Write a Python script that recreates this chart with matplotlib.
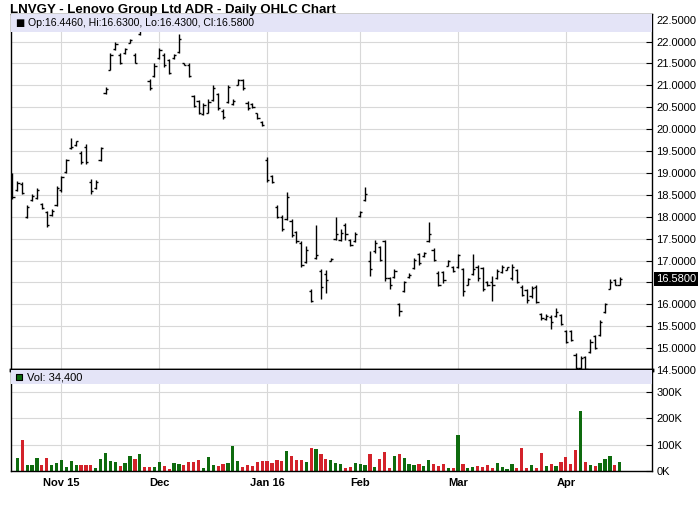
import matplotlib
matplotlib.use("Agg")
import matplotlib.pyplot as plt
from matplotlib.patches import Rectangle
from matplotlib.ticker import FixedLocator, FuncFormatter

plt.rcParams['font.family'] = ['Liberation Sans', 'DejaVu Sans']

# daily bars, 19 Oct 2015 .. 18 Apr 2016 (125 trading days)
opens = [18.98, 18.62, 18.75, 18.00, 18.38, 18.42, 18.30, 18.10, 18.04, 18.26,
         18.60, 19.03, 19.56, 19.63, 19.45, 19.60, 18.80, 18.66, 19.29, 20.82,
         21.36, 21.83, 21.70, 21.73, 21.97, 21.70, 22.17, 22.48, 21.10, 21.22,
         21.63, 21.70, 21.58, 21.62, 21.77, 21.51, 21.47, 20.75, 20.65, 20.35,
         20.38, 20.66, 20.80, 20.42, 20.62, 20.57, 21.01, 21.12, 20.60, 20.57,
         20.36, 20.17, 19.30, 18.92, 18.22, 18.00, 17.94, 17.90, 17.65, 17.40,
         16.97, 16.30, 17.05, 16.75, 16.70, 17.00, 17.50, 17.46, 17.80, 17.48,
         17.44, 18.02, 18.38, 17.00, 17.22, 17.30, 17.45, 16.60, 16.63, 16.00,
         16.30, 16.63, 16.83, 17.15, 17.10, 17.44, 17.25, 16.72, 16.74, 16.88,
         16.85, 16.86, 16.80, 16.45, 16.70, 16.85, 16.82, 16.52, 16.50, 16.60,
         16.73, 16.79, 16.60, 16.78, 16.40, 16.32, 16.18, 16.40, 15.78, 15.67,
         15.72, 15.74, 15.75, 15.40, 15.38, 14.85, 14.55, 14.80, 14.90, 15.28,
         15.29, 15.83, 16.36, 16.55, 16.446]
highs = [19.00, 18.81, 18.79, 18.26, 18.51, 18.66, 18.32, 18.13, 18.17, 18.70,
         18.94, 19.33, 19.80, 19.74, 19.50, 19.65, 18.87, 18.85, 19.60, 20.97,
         21.73, 21.98, 21.73, 21.86, 22.05, 21.73, 22.40, 22.50, 21.14, 21.50,
         21.85, 21.73, 21.61, 21.71, 22.17, 21.52, 21.50, 20.77, 20.67, 20.59,
         20.68, 21.00, 20.83, 20.45, 21.00, 20.68, 21.14, 21.15, 20.64, 20.59,
         20.38, 20.19, 19.37, 18.95, 18.26, 18.03, 18.56, 17.94, 17.67, 17.44,
         17.33, 16.34, 17.82, 16.80, 16.78, 17.06, 18.00, 17.73, 17.86, 17.50,
         17.65, 18.13, 18.69, 17.22, 17.47, 17.33, 17.48, 16.63, 16.81, 16.04,
         16.53, 16.72, 17.06, 17.18, 17.19, 17.88, 17.29, 16.76, 16.76, 17.01,
         16.87, 17.16, 16.83, 16.61, 17.16, 16.89, 16.86, 16.53, 16.64, 16.80,
         16.89, 16.86, 16.93, 16.81, 16.43, 16.35, 16.42, 16.43, 15.81, 15.77,
         15.75, 15.92, 15.77, 15.42, 15.42, 14.88, 14.82, 14.83, 15.21, 15.31,
         15.65, 16.03, 16.57, 16.57, 16.63]
lows = [18.40, 18.59, 18.51, 17.98, 18.36, 18.40, 18.17, 17.77, 18.02, 18.24,
        18.56, 19.01, 19.54, 19.61, 19.20, 19.20, 18.53, 18.64, 19.27, 20.80,
        21.35, 21.81, 21.48, 21.71, 21.96, 21.50, 22.15, 22.30, 20.90, 21.20,
        21.61, 21.43, 21.25, 21.61, 21.75, 21.46, 21.20, 20.51, 20.34, 20.32,
        20.36, 20.64, 20.44, 20.24, 20.59, 20.55, 21.00, 20.90, 20.44, 20.48,
        20.23, 20.07, 18.79, 18.76, 17.96, 17.67, 17.92, 17.54, 17.41, 16.86,
        16.95, 16.05, 17.04, 16.13, 16.26, 16.99, 17.47, 17.44, 17.48, 17.33,
        17.42, 18.00, 18.36, 16.64, 17.18, 16.99, 16.53, 16.35, 16.61, 15.73,
        16.28, 16.61, 16.81, 16.89, 17.09, 17.42, 16.99, 16.42, 16.49, 16.87,
        16.74, 16.83, 16.19, 16.43, 16.68, 16.53, 16.30, 16.42, 16.07, 16.58,
        16.71, 16.78, 16.55, 16.49, 16.19, 16.02, 16.15, 16.02, 15.65, 15.65,
        15.43, 15.72, 15.52, 15.11, 15.16, 14.46, 14.51, 14.48, 14.88, 14.97,
        15.27, 15.81, 16.34, 16.43, 16.43]
closes = [18.45, 18.78, 18.55, 18.22, 18.48, 18.62, 18.20, 17.82, 18.14, 18.66,
          18.90, 19.30, 19.60, 19.72, 19.25, 19.25, 18.58, 18.80, 19.58, 20.92,
          21.70, 21.95, 21.52, 21.84, 22.03, 21.52, 22.35, 22.32, 20.95, 21.45,
          21.80, 21.47, 21.28, 21.69, 22.05, 21.47, 21.22, 20.53, 20.37, 20.55,
          20.62, 20.95, 20.48, 20.27, 20.96, 20.64, 21.12, 20.93, 20.48, 20.50,
          20.26, 20.09, 18.85, 18.79, 18.00, 17.72, 18.45, 17.58, 17.45, 16.90,
          17.25, 16.08, 17.12, 16.40, 16.55, 17.04, 17.60, 17.62, 17.60, 17.36,
          17.60, 18.10, 18.52, 16.80, 17.40, 17.02, 16.60, 16.45, 16.76, 15.85,
          16.50, 16.68, 17.02, 16.95, 17.17, 17.60, 17.02, 16.45, 16.55, 16.98,
          16.77, 17.12, 16.30, 16.58, 16.80, 16.60, 16.35, 16.44, 16.45, 16.75,
          16.85, 16.85, 16.85, 16.52, 16.22, 16.10, 16.38, 16.05, 15.68, 15.74,
          15.60, 15.82, 15.55, 15.13, 15.18, 14.55, 14.78, 14.52, 15.15, 15.00,
          15.60, 16.00, 16.52, 16.45, 16.58]
# volume in thousands of shares, colour: 'g' up day, 'r' down day
volume = [0, 49, 116, 22, 22, 49, 22, 49, 22, 30,
          41, 14, 37, 22, 22, 22, 22, 11, 45, 67,
          37, 34, 19, 30, 56, 45, 64, 15, 15, 15,
          34, 19, 7, 30, 26, 22, 34, 34, 41, 11,
          52, 22, 19, 26, 30, 94, 37, 15, 22, 19,
          34, 37, 37, 30, 41, 37, 75, 56, 41, 41,
          34, 86, 82, 64, 45, 41, 30, 26, 11, 14,
          30, 26, 22, 64, 15, 45, 71, 11, 56, 64,
          49, 26, 22, 26, 19, 41, 26, 19, 26, 11,
          11, 135, 26, 11, 15, 19, 15, 22, 11, 30,
          15, 7, 26, 11, 86, 11, 22, 11, 67, 19,
          26, 19, 34, 52, 26, 79, 226, 34, 22, 19,
          30, 45, 56, 22, 34.4]
vol_dir = ("ggrgggrrgg" "ggggrrrggg" "ggrggrgrrg" "grrggrrrrg" "ggrrgggrrr"
           "rrrrrrgrrr" "grgrrgggrr" "gggrgrrrgr" "gggrggrrrg" "rgrggrrrrg"
           "gggrrrgrrg" "rgrrrrgrgr" "gggrg")

month_pos = [10, 30, 52, 71, 91, 113]
month_labels = ["Nov 15", "Dec", "Jan 16", "Feb", "Mar", "Apr"]
price_ticks = [14.5 + 0.5 * i for i in range(17)]
vol_ticks = [0, 100, 200, 300]

GREEN = '#0e6b0e'
RED = '#d3222a'
GRID = '#d8d8d8'
BAND = '#e4e4f7'

x = list(range(len(closes)))

fig = plt.figure(figsize=(7, 5.12), dpi=100)
fig.text(0.014, 0.981, "LNVGY - Lenovo Group Ltd ADR - Daily OHLC Chart",
         fontsize=9.5, fontweight='bold', va='center', ha='left')

ax = fig.add_axes([11 / 700, 1 - 370 / 512, 641 / 700, 356 / 512])
axv = fig.add_axes([11 / 700, 1 - 471 / 512, 641 / 700, 101 / 512], sharex=ax)

# price panel
ax.vlines(x, lows, highs, color='black', lw=1)
ax.hlines(opens, [i - 0.45 for i in x], x, color='black', lw=1)
ax.hlines(closes, x, [i + 0.45 for i in x], color='black', lw=1)
ax.set_xlim(-0.3, 130.6)
ax.set_ylim(14.5, 22.63)

for a in (ax, axv):
    a.set_xticks(month_pos)
    a.grid(True, color=GRID, lw=0.8)
    a.set_axisbelow(True)
    a.yaxis.tick_right()
    a.tick_params(axis='y', direction='in', length=4, labelsize=8, pad=3)
    a.tick_params(axis='x', length=0)
    for s in a.spines.values():
        s.set_color('black')
        s.set_linewidth(1)

ax.yaxis.set_major_locator(FixedLocator(price_ticks))
ax.yaxis.set_major_formatter(FuncFormatter(
    lambda v, p: "" if abs(v - 16.5) < 1e-6 else "%.4f" % v))
ax.tick_params(axis='x', labelbottom=False)
ax.spines['bottom'].set_linewidth(2.5)

ax.add_patch(Rectangle((0, 1 - 18 / 356), 1, 18 / 356, transform=ax.transAxes,
                       facecolor=BAND, edgecolor='none', zorder=3))
ax.text(0.006, 1 - 9 / 356, "\u25a0", transform=ax.transAxes, fontsize=7,
        va='center', ha='left', zorder=4, family=['DejaVu Sans'])
ax.text(0.027, 1 - 9 / 356,
        "Op:%.4f, Hi:%.4f, Lo:%.4f, Cl:%.4f" % (opens[-1], highs[-1], lows[-1], closes[-1]),
        transform=ax.transAxes, fontsize=7.6, va='center', ha='left', zorder=4)
ax.text(1.006, closes[-1], "%.4f" % closes[-1], transform=ax.get_yaxis_transform(),
        fontsize=8, color='white', va='center', ha='left',
        bbox=dict(facecolor='black', edgecolor='none', pad=1.2))

# volume panel
colors = [GREEN if d == 'g' else RED for d in vol_dir]
axv.bar(x, volume, width=0.66, color=colors, zorder=2)
axv.set_ylim(0, 382)
axv.yaxis.set_major_locator(FixedLocator(vol_ticks))
axv.yaxis.set_major_formatter(FuncFormatter(lambda v, p: "%dK" % v))
axv.set_xticklabels(month_labels, fontsize=8, fontweight='bold')
axv.tick_params(axis='x', pad=5)
axv.spines['top'].set_linewidth(2.5)

axv.add_patch(Rectangle((0, 1 - 14 / 101), 1, 14 / 101, transform=axv.transAxes,
                        facecolor=BAND, edgecolor='none', zorder=3))
axv.scatter([0.012], [1 - 7 / 101], marker='s', s=22, color=GREEN,
            edgecolors='black', linewidths=0.8, transform=axv.transAxes, zorder=4)
axv.text(0.025, 1 - 7 / 101, "Vol: 34,400", transform=axv.transAxes,
         fontsize=8, va='center', ha='left', zorder=4)

fig.savefig("out.png", dpi=100)
